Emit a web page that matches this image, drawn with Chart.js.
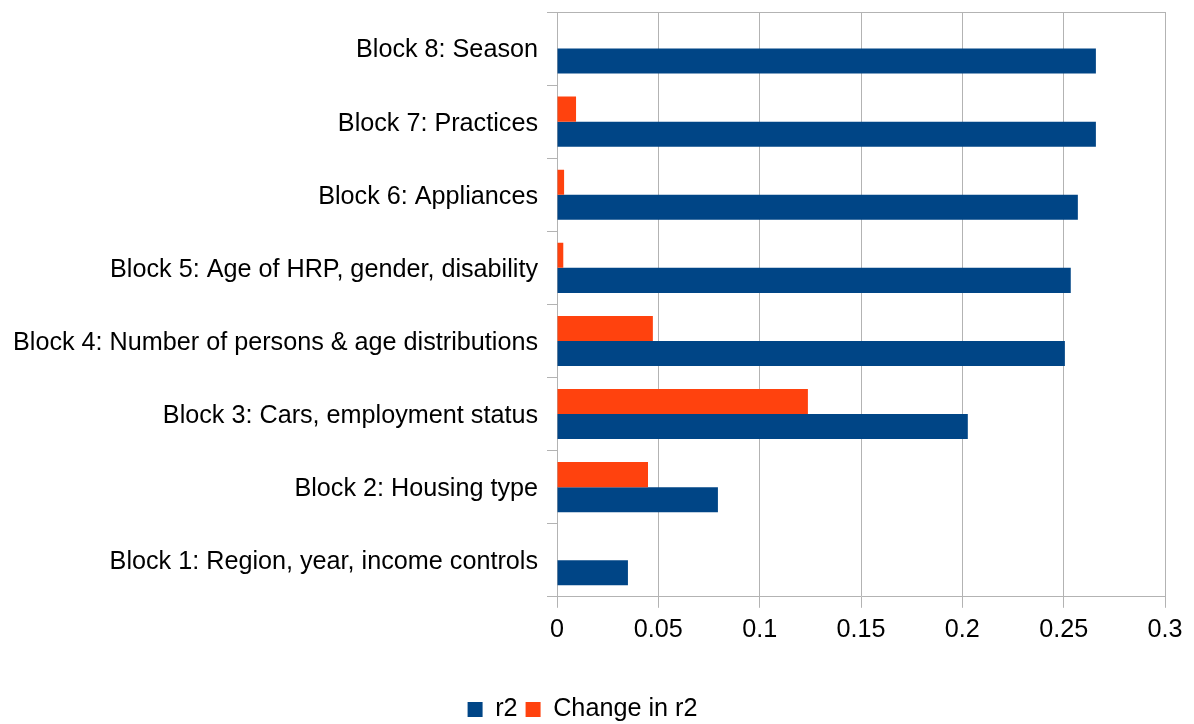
<!DOCTYPE html>
<html>
<head>
<meta charset="utf-8">
<script src="https://cdn.jsdelivr.net/npm/chart.js@4"></script>
<style>
  html, body { margin: 0; padding: 0; background: #fff; }
  #wrap { width: 1194px; height: 724px; }
</style>
</head>
<body>
<div id="wrap"><canvas id="myChart"></canvas></div>
<script>
// categories listed top to bottom
const blocks = [
    "Block 8: Season",
    "Block 7: Practices",
    "Block 6: Appliances",
    "Block 5: Age of HRP, gender, disability",
    "Block 4: Number of persons & age distributions",
    "Block 3: Cars, employment status",
    "Block 2: Housing type",
    "Block 1: Region, year, income controls"
];
const r2 = [0.2659, 0.2659, 0.2570, 0.2535, 0.2506, 0.2027, 0.0794, 0.0350];
const changeR2 = [0, 0.0094, 0.0035, 0.0031, 0.0473, 0.1238, 0.0449, 0];
const xTicks = [0, 0.05, 0.1, 0.15, 0.2, 0.25, 0.3];

const gridGray = "#b3b3b3";
Chart.defaults.font.family = "'Liberation Sans', Arial, sans-serif";
Chart.defaults.font.size = 25.2;
Chart.defaults.color = "#000";

new Chart("myChart", {
    type: "bar",
    data: {
        labels: blocks,
        datasets: [{
            label: "Change in r2",
            data: changeR2,
            backgroundColor: "#ff420e"
        }, {
            label: "r2",
            data: r2,
            backgroundColor: "#004586"
        }]
    },
    options: {
        indexAxis: "y",
        responsive: true,
        maintainAspectRatio: false,
        animation: false,
        barPercentage: 1,
        categoryPercentage: 0.685,
        layout: { padding: { top: 12, right: 29, left: 0, bottom: -8 } },
        scales: {
            x: {
                min: 0,
                max: 0.3,
                afterBuildTicks: (axis) => { axis.ticks = xTicks.map(v => ({ value: v })); },
                afterFit: (axis) => { axis.height = 92; },
                ticks: { padding: 7, callback: (v) => String(v) },
                grid: { color: gridGray, tickLength: 11 },
                border: { color: gridGray }
            },
            y: {
                afterFit: (axis) => {
                    axis.width = 557;
                    axis.paddingTop = 0;
                    axis.paddingBottom = 0;
                },
                ticks: { padding: 9, labelOffset: 2 },
                grid: {
                    color: (ctx) => ctx.index === 0 ? gridGray : "rgba(0,0,0,0)",
                    tickColor: gridGray,
                    tickLength: 10
                },
                border: { color: gridGray }
            }
        },
        plugins: {
            legend: {
                position: "bottom",
                reverse: true,
                labels: { boxWidth: 15, boxHeight: 15, padding: 8 }
            },
            tooltip: { enabled: false }
        }
    }
});
</script>
</body>
</html>
